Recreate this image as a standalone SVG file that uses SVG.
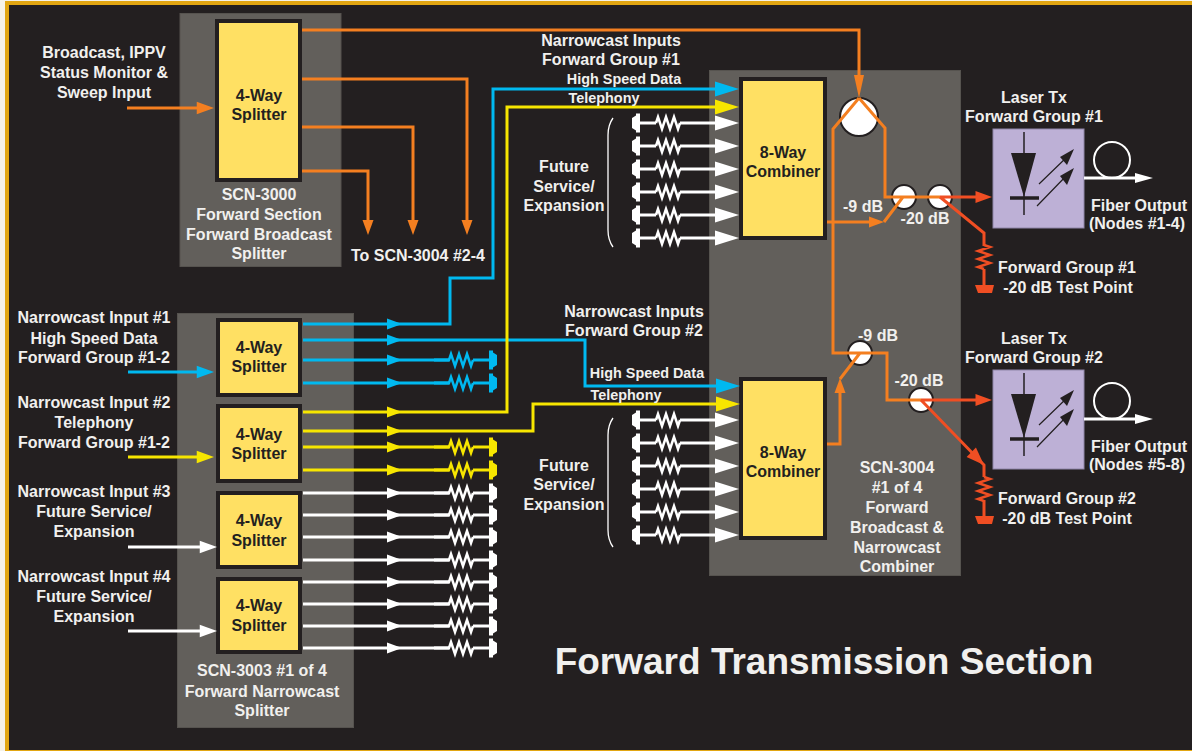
<svg xmlns="http://www.w3.org/2000/svg" width="1192" height="751" viewBox="0 0 1192 751">
<style>
text{font-family:"Liberation Sans",Arial,sans-serif;font-weight:bold;font-size:16px;fill:#f1f0ee;text-anchor:middle}
.d{fill:#231f20}.s{font-size:14.4px}.t{font-size:37px}
.panel{fill:#625f5b;stroke:#56534f;stroke-width:1}
.box{fill:#ffe063;stroke:#231f20;stroke-width:4}
.l{fill:none;stroke-width:3;stroke-linejoin:miter}
.o{color:#f47f20;stroke:#f47f20}.b{color:#00b9f0;stroke:#00b9f0}.y{color:#f7e600;stroke:#f7e600}.w{color:#fff;stroke:#fff}.r{color:#f04e23;stroke:#f04e23}
.a{stroke:none}
.c{fill:#fff;stroke:#231f20;stroke-width:2}
.laser{fill:#bdb0d6;stroke:#8f86a8;stroke-width:1}
</style>
<defs>
<polygon id="a" points="0,0 -15,-5.5 -15,5.5" fill="currentColor" stroke="none"/>
<polygon id="A" points="0,0 -24,-7.5 -24,7.5" fill="currentColor" stroke="none"/>
<path id="z" d="M0 0L2 -6L6 6L10 -6L14 6L18 -6L22 6L24 0" fill="none" stroke="currentColor" stroke-width="2.5"/>
<path id="tr" d="M0 -9.500H4V-7.500L8 -5V5L4 7.500V9.500H0Z" fill="currentColor" stroke="none"/>
<path id="tl" d="M0 -9.500H-4V-7.500L-8 -5V5L-4 7.500V9.500H0Z" fill="currentColor" stroke="none"/>
<g id="rr"><path d="M0 0H15M39 0H56" fill="none" stroke="currentColor" stroke-width="3"/><use href="#z" transform="translate(15,0)"/><use href="#tr" transform="translate(55,0)"/></g>
<g id="in"><path d="M640 0H656M680 0H716" fill="none" stroke="#fff" stroke-width="3"/><use href="#z" transform="translate(656,0)" color="#fff"/><use href="#tl" transform="translate(640,0)" color="#fff"/><use href="#A" transform="translate(739,0)" color="#fff"/></g>
<g id="diode"><path d="M1024 132V215" stroke="#231f20" stroke-width="1.5" fill="none"/><polygon points="1011,153 1036,153 1024,197" class="d"/><path d="M1010 198H1039" stroke="#231f20" stroke-width="3.5"/><path d="M1039 184L1068 156M1037 206L1068 174" stroke="#231f20" stroke-width="1.2"/><polygon points="1074,149 1060,157 1067,165" class="d"/><polygon points="1074,168 1060,176 1067,185" class="d"/><circle cx="1112" cy="160" r="18" fill="#231f20" stroke="#fff" stroke-width="2"/><path d="M1084 178H1136" stroke="#fff" stroke-width="3"/><polygon points="1153,178 1135,173 1135,183" fill="#fff"/></g>
</defs>

<rect width="1192" height="751" fill="#f6f2e8"/>
<rect x="5" y="1" width="1187" height="750" fill="#e2a612"/>
<rect x="9" y="5" width="1183" height="745" fill="#231f20"/>

<g id="scn-3000"><rect class="panel" x="180" y="13.500" width="161" height="253"/>
<rect class="box" x="217" y="21" width="83" height="159"/>
<text class="d" x="259" y="101">4-Way</text><text class="d" x="259" y="120">Splitter</text>
<text x="259" y="200">SCN-3000</text><text x="259" y="220">Forward Section</text><text x="259" y="240">Forward Broadcast</text><text x="259" y="259">Splitter</text></g>

<g id="scn-3003"><rect class="panel" x="177.500" y="313.500" width="176" height="414"/>
<text x="262" y="676">SCN-3003 #1 of 4</text><text x="262" y="697">Forward Narrowcast</text><text x="262" y="716">Splitter</text></g>
<g id="splitter-1"><rect class="box" x="218" y="320" width="82" height="75"/><text class="d" x="259" y="353">4-Way</text><text class="d" x="259" y="372">Splitter</text></g>
<g id="splitter-2"><rect class="box" x="218" y="406" width="82" height="75"/><text class="d" x="259" y="440">4-Way</text><text class="d" x="259" y="459">Splitter</text></g>
<g id="splitter-3"><rect class="box" x="218" y="493" width="82" height="74"/><text class="d" x="259" y="526">4-Way</text><text class="d" x="259" y="546">Splitter</text></g>
<g id="splitter-4"><rect class="box" x="218" y="579" width="82" height="73"/><text class="d" x="259" y="611">4-Way</text><text class="d" x="259" y="631">Splitter</text></g>

<g id="scn-3004"><rect class="panel" x="709.500" y="70.500" width="251" height="505"/>
<text x="897" y="473">SCN-3004</text><text x="897" y="493">#1 of 4</text><text x="897" y="513">Forward</text><text x="897" y="533">Broadcast &amp;</text><text x="897" y="553">Narrowcast</text><text x="897" y="572">Combiner</text></g>
<g id="combiner-1"><rect class="box" x="741" y="79" width="84" height="159"/><text class="d" x="783" y="158">8-Way</text><text class="d" x="783" y="177">Combiner</text></g>
<g id="combiner-2"><rect class="box" x="741" y="379" width="84" height="159"/><text class="d" x="783" y="458">8-Way</text><text class="d" x="783" y="477">Combiner</text></g>

<g id="couplers">
<circle class="c" cx="859" cy="117" r="19"/><circle class="c" cx="904" cy="197" r="12"/><circle class="c" cx="940" cy="197" r="12"/><circle class="c" cx="860" cy="353" r="12"/><circle class="c" cx="921" cy="400" r="12"/>
</g>

<g id="laser-1"><rect class="laser" x="993" y="129" width="91" height="99"/><use href="#diode"/></g>
<g id="laser-2"><rect class="laser" x="993" y="370" width="91" height="99"/><use href="#diode" y="241"/></g>

<g id="connectors">
<g class="o"><path class="l" d="M302 30H859V85M302 79H467V225M302 127H413V225M302 171H368V225M127 108H200M827 222H870M884 222L903 197M840 392V444H827M840 379L860 353M859 98L833 129V353H887V400H921M859 98L885 128V197H940"/>
<use href="#a" transform="translate(214,108) scale(1.15)"/>
<polygon class="a" fill="#f47f20" points="859,98 854,75 864,75"/>
<use href="#a" transform="translate(467,235) rotate(90)"/><use href="#a" transform="translate(413,235) rotate(90)"/><use href="#a" transform="translate(368,235) rotate(90)"/>
<use href="#a" transform="translate(884,222)"/><use href="#a" transform="translate(840,378) rotate(-90)"/></g>
<g class="r"><path class="l" d="M940 197H978M921 400H978M940 197L984 233V246M984 269V286M921 400L984 465V477M984 500V517"/>
<use href="#a" transform="translate(992,197) scale(1.1)"/><use href="#a" transform="translate(992,400) scale(1.1)"/><use href="#a" transform="translate(984,465) rotate(45) scale(1.2)"/>
<use href="#z" transform="translate(984,245) rotate(90)"/><use href="#z" transform="translate(984,477) rotate(90)"/>
<path class="a" fill="#f04e23" d="M975 285H994L992 293H978ZM975 516H994L992 524H978Z"/></g>

<g class="b"><path class="l" d="M128 372H205M303 324H450V278H493V89H720M303 340H585V386H720M303 360H450M303 383H450"/>
<use href="#a" transform="translate(214,372) scale(1.15)"/><use href="#a" transform="translate(402,324)"/><use href="#a" transform="translate(402,340)"/><use href="#a" transform="translate(402,360)"/><use href="#a" transform="translate(402,383)"/><use href="#A" transform="translate(739,89)"/><use href="#A" transform="translate(740,386)"/>
<use href="#rr" transform="translate(434,360)"/><use href="#rr" transform="translate(434,383)"/></g>

<g class="y"><path class="l" d="M128 457H205M303 412H507V107H720M303 431H533V404H720M303 447H450M303 470H450"/>
<use href="#a" transform="translate(214,457) scale(1.15)"/><use href="#a" transform="translate(402,412)"/><use href="#a" transform="translate(402,431)"/><use href="#a" transform="translate(402,447)"/><use href="#a" transform="translate(402,470)"/><use href="#A" transform="translate(739,107)"/><use href="#A" transform="translate(740,404)"/>
<use href="#rr" transform="translate(434,447)"/><use href="#rr" transform="translate(434,470)"/></g>

<g class="w"><path class="l" d="M128 547H205M128 631H205M303 493H450M303 515H450M303 537H450M303 560H450M303 582H450M303 604H450M303 626H450M303 648H450"/>
<use href="#a" transform="translate(217,547) scale(1.15)"/><use href="#a" transform="translate(217,631) scale(1.15)"/>
<use href="#a" transform="translate(402,493)"/><use href="#a" transform="translate(402,515)"/><use href="#a" transform="translate(402,537)"/><use href="#a" transform="translate(402,560)"/><use href="#a" transform="translate(402,582)"/><use href="#a" transform="translate(402,604)"/><use href="#a" transform="translate(402,626)"/><use href="#a" transform="translate(402,648)"/>
<use href="#rr" transform="translate(434,493)"/><use href="#rr" transform="translate(434,515)"/><use href="#rr" transform="translate(434,537)"/><use href="#rr" transform="translate(434,560)"/><use href="#rr" transform="translate(434,582)"/><use href="#rr" transform="translate(434,604)"/><use href="#rr" transform="translate(434,626)"/><use href="#rr" transform="translate(434,648)"/>
<use href="#in" y="123"/><use href="#in" y="146"/><use href="#in" y="169"/><use href="#in" y="192"/><use href="#in" y="215"/><use href="#in" y="238"/>
<use href="#in" y="420"/><use href="#in" y="443"/><use href="#in" y="466"/><use href="#in" y="489"/><use href="#in" y="512"/><use href="#in" y="535"/>
<path d="M613 118Q608 125 608 135V230Q608 240 613 247M613 418Q608 425 608 435V530Q608 540 613 547" fill="none" stroke="#fff" stroke-width="1.3"/></g>
</g>

<g id="labels">
<text x="104" y="58">Broadcast, IPPV</text><text x="104" y="78">Status Monitor &amp;</text><text x="104" y="98">Sweep Input</text>
<text x="418" y="261">To SCN-3004 #2-4</text>
<text x="94" y="323">Narrowcast Input #1</text><text x="94" y="344">High Speed Data</text><text x="94" y="363">Forward Group #1-2</text>
<text x="94" y="408">Narrowcast Input #2</text><text x="94" y="428">Telephony</text><text x="94" y="448">Forward Group #1-2</text>
<text x="94" y="497">Narrowcast Input #3</text><text x="94" y="517">Future Service/</text><text x="94" y="537">Expansion</text>
<text x="94" y="582">Narrowcast Input #4</text><text x="94" y="602">Future Service/</text><text x="94" y="622">Expansion</text>
<text x="611" y="46">Narrowcast Inputs</text><text x="611" y="65">Forward Group #1</text>
<text class="s" x="624" y="84">High Speed Data</text><text class="s" x="604" y="103">Telephony</text>
<text x="634" y="317">Narrowcast Inputs</text><text x="634" y="336">Forward Group #2</text>
<text class="s" x="647" y="378">High Speed Data</text><text class="s" x="626" y="400">Telephony</text>
<text x="564" y="172">Future</text><text x="564" y="192">Service/</text><text x="564" y="211">Expansion</text>
<text x="564" y="471">Future</text><text x="564" y="490">Service/</text><text x="564" y="510">Expansion</text>
<text x="863" y="212">-9 dB</text><text x="925" y="224">-20 dB</text><text x="878" y="341">-9 dB</text><text x="919" y="386">-20 dB</text>
<text x="1034" y="103">Laser Tx</text><text x="1034" y="122">Forward Group #1</text>
<text x="1034" y="344">Laser Tx</text><text x="1034" y="363">Forward Group #2</text>
<text x="1139" y="211">Fiber Output</text><text x="1137" y="229">(Nodes #1-4)</text>
<text x="1139" y="452">Fiber Output</text><text x="1137" y="470">(Nodes #5-8)</text>
<text x="1067" y="273">Forward Group #1</text><text x="1068" y="293">-20 dB Test Point</text>
<text x="1067" y="504">Forward Group #2</text><text x="1067" y="524">-20 dB Test Point</text>
<text class="t" x="824" y="674">Forward Transmission Section</text>
</g>
</svg>
